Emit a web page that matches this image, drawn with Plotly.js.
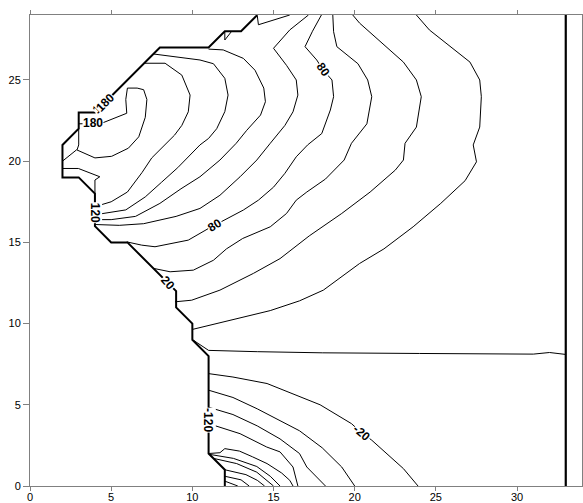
<!DOCTYPE html>
<html>
<head>
<meta charset="utf-8">
<script src="https://cdn.plot.ly/plotly-3.0.1.min.js"></script>
<style>html,body{margin:0;padding:0;background:#fff;}#chart{width:583px;height:503px;}</style>
</head>
<body>
<div id="chart"></div>
<script>
// ---- data (data units) ----
const boundaryX = [14,13,12,11,8,4,3,3,2,2,3,4,4,5,6,9,9,10,10,11,11,12,12];
const boundaryY = [29,28,28,27,27,23,23,22,21,19,19,18,16,15,15,12,11,10,9,8,2,1,0];

const wallX = [33,33];
const wallY = [0,29];

// positive contour levels (upper region)
const c0x = [10.1,10.9,11.0,14.0,18.0,24.0,30.0,31.0,32.0,32.5,33.0];
const c0y = [8.95,8.4,8.35,8.27,8.2,8.16,8.16,8.12,8.22,8.15,8.1];
const c20x = [10.0,12.3,14.8,16.6,18.07,20.3,21.8,23.6,25.3,26.8,27.5,27.3,27.7,27.8,27.7,27.1,24.6,23.8];
const c20y = [9.64,10.2,10.8,11.4,12.06,13.7,14.6,15.96,17.4,18.8,19.96,21.0,22.1,23.97,25.0,26.1,28.08,29.0];
const c40x = [8.93,9.96,11.7,13.76,15.4,17.2,19.2,20.95,22.5,23.0,23.1,23.8,24.1,23.8,23.0,20.3,19.88];
const c40y = [11.34,11.44,12.06,13.09,14.0,15.4,16.78,18.1,19.45,20.07,21.1,22.1,23.97,25.0,26.1,28.5,29.0];
const c60x = [7.3,7.6,8.63,10.06,11.3,12.1,13.1,14.8,15.8,16.4,17.05,18.2,19.35,19.8,20.75,21.05,20.8,20.2,18.9,18.7,18.65];
const c60y = [13.7,13.4,13.19,13.29,13.9,14.6,15.24,15.96,16.78,17.6,18.1,18.9,20.07,21.1,22.3,23.97,25.0,26.0,27.05,27.97,29.0];
const c80x = [5.96,6.88,7.7,9.75,11.0,13.14,14.07,15.0,15.7,16.4,17.1,17.97,18.5,18.7,18.6,18.07,17.66,16.94,17.4,17.95];
const c80y = [15.03,14.83,14.73,15.14,15.86,16.99,17.6,18.4,19.25,20.27,21.0,21.7,23.15,23.97,25.0,25.6,26.23,27.05,28.0,29.0];
const c100x = [17.15,16.0,15.0,15.8,16.4,16.5,16.2,15.7,14.8,13.97,12.94,11.7,10.47,9.0,7.0,5.5,4.0];
const c100y = [29.0,28.08,26.95,25.9,25.0,24.07,23.04,22.2,21.1,20.07,19.04,17.9,17.09,16.6,16.15,16.05,16.1];
const c120x = [11.0,11.9,13.14,13.86,14.4,14.5,14.2,13.35,12.7,11.7,10.47,9.3,8.0,6.5,5.0,4.0];
const c120y = [26.9,26.85,26.33,25.6,24.5,23.66,22.84,21.9,21.1,20.07,19.04,18.3,17.4,16.6,16.4,16.4];
const c140x = [7.6,8.93,10.47,11.3,12.0,12.2,12.0,11.5,11.0,10.47,9.1,8.1,7.1,5.9,4.0];
const c140y = [26.6,26.43,26.23,26.0,25.1,24.07,23.05,22.0,21.4,21.0,19.6,18.7,17.8,17.0,16.7];
const c160x = [7.03,8.32,9.35,9.86,9.75,9.35,8.9,8.2,7.5,6.9,6.0,5.0,4.0];
const c160y = [26.03,26.03,25.3,24.07,23.04,22.2,21.6,20.9,20.2,19.3,18.1,17.5,17.2];
const c180x = [3.0,4.4,5.96,5.9,6.0,6.6,7.0,7.2,7.1,6.7,6.06,5.03,4.0,2.87,2.0];
const c180y = [22.3,22.33,22.95,23.8,24.5,24.5,24.4,23.8,22.7,21.5,20.8,20.3,20.2,20.7,20.0];
const s1x = [3.0,3.0,2.9];
const s1y = [22.0,21.0,20.7];
const s2x = [2.0,2.98,4.3,4.0,4.0];
const s2y = [19.55,19.55,19.04,18.84,18.0];
const s3x = [14.0,14.07,16.0];
const s3y = [28.95,28.4,29.0];
const s4x = [12.0,12.0,12.4];
const s4y = [27.97,27.46,27.97];

// negative contour levels (lower region)
const n20x = [11.0,12.5,14.6,15.4,16.6,17.87,19.8,20.4,21.05,23.0,23.9];
const n20y = [6.92,6.71,6.31,6.0,5.5,5.0,3.84,3.3,2.82,1.07,0];
const n40x = [11.0,12.5,14.0,15.4,16.6,18.0,19.2,20.0];
const n40y = [5.9,5.45,4.75,4.05,3.4,2.35,1.17,0];
const n60x = [11.0,12.5,14.0,15.4,16.6,17.05,18.2];
const n60y = [4.85,4.4,3.7,2.9,2.0,1.17,0];
const n80x = [11.0,12.94,14.58,15.4,16.2,16.5];
const n80y = [3.84,3.22,2.4,2.1,1.17,0];
const n100x = [11.0,11.7,12.0,12.9,13.7,14.6,15.5,16.0,16.2];
const n100y = [2.0,2.05,2.3,2.15,1.8,1.38,0.8,0.35,0];
const n120x = [11.05,12.53,13.97,14.8,15.4];
const n120y = [1.95,1.7,1.2,0.6,0];
const n140x = [11.3,12.73,13.97,14.6,15.0];
const n140y = [1.7,1.38,0.85,0.35,0];
const n160x = [12.0,13.3,14.0,14.45];
const n160y = [1.0,0.7,0.35,0];
const n180x = [12.0,13.0,13.5];
const n180y = [0.6,0.38,0];
const n200x = [12.0,12.5,12.8];
const n200y = [0.3,0.1,0];

// contour labels
const labelText  = ['180','160','180','120','80','20','80','-120','-20'];
const labelX     = [3.85,4.45,4.6,4.0,11.4,8.5,18.07,10.97,20.44];
const labelY     = [22.34,23.5,23.6,16.83,16.06,12.5,25.6,4.05,3.28];
const labelAngle = [0,-45,-45,90,-32,48,55,90,40];

const xTicks = [0,5,10,15,20,25,30];
const yTicks = [0,5,10,15,20,25];

// ---- build traces ----
const thin = [
  [c0x,c0y],[c20x,c20y],[c40x,c40y],[c60x,c60y],[c80x,c80y],[c100x,c100y],
  [c120x,c120y],[c140x,c140y],[c160x,c160y],[c180x,c180y],
  [s1x,s1y],[s2x,s2y],[s3x,s3y],[s4x,s4y],
  [n20x,n20y],[n40x,n40y],[n60x,n60y],[n80x,n80y],[n100x,n100y],
  [n120x,n120y],[n140x,n140y],[n160x,n160y],[n180x,n180y],[n200x,n200y]
];
const traces = thin.map(p => ({
  x: p[0], y: p[1], type: 'scatter', mode: 'lines',
  line: {color: '#000', width: 1}, hoverinfo: 'skip'
}));
traces.push({x: boundaryX, y: boundaryY, type: 'scatter', mode: 'lines',
  line: {color: '#000', width: 2}, hoverinfo: 'skip'});
traces.push({x: wallX, y: wallY, type: 'scatter', mode: 'lines',
  line: {color: '#000', width: 2.2}, hoverinfo: 'skip'});

const annotations = labelText.map((t, i) => ({
  x: labelX[i], y: labelY[i], xref: 'x', yref: 'y', text: '<b>' + t + '</b>',
  showarrow: false, textangle: labelAngle[i], bgcolor: 'rgba(255,255,255,1)',
  borderpad: 0, font: {family: 'Liberation Sans, Arial, sans-serif', size: 12, color: '#000'}
}));

const axisCommon = {
  showgrid: false, zeroline: false, showline: true, linecolor: '#808080', linewidth: 1,
  ticks: 'outside', ticklen: 6, tickcolor: '#808080', tickwidth: 1, mirror: 'ticks',
  tickfont: {family: 'Liberation Sans, Arial, sans-serif', size: 11, color: '#000'}
};

const layout = {
  width: 583, height: 503,
  margin: {l: 30, r: 1, t: 15, b: 17, pad: 0},
  paper_bgcolor: '#fff', plot_bgcolor: '#fff',
  showlegend: false,
  xaxis: Object.assign({}, axisCommon, {range: [0, 34], tickvals: xTicks, ticktext: xTicks.map(String),
    ticklen: 4, ticklabelstandoff: -3}),
  yaxis: Object.assign({}, axisCommon, {range: [0, 29], tickvals: yTicks, ticktext: yTicks.map(String)}),
  annotations: annotations
};

Plotly.newPlot('chart', traces, layout, {staticPlot: true, displayModeBar: false});
</script>
</body>
</html>
